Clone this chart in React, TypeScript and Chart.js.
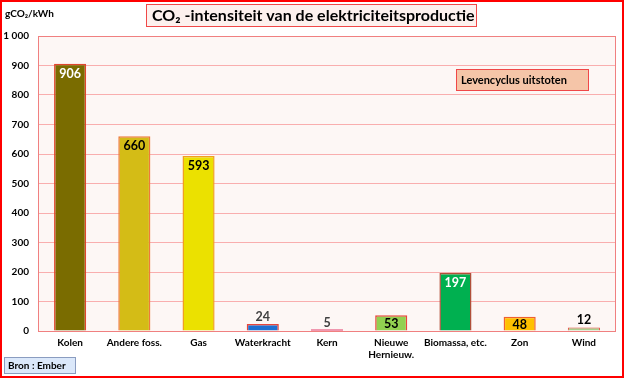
import React, { useEffect, useRef } from 'react';
import { Chart, registerables } from 'chart.js';
Chart.register(...registerables);

const categories: string[][] = [
  ['Kolen'], ['Andere foss.'], ['Gas'], ['Waterkracht'], ['Kern'],
  ['Nieuwe', 'Hernieuw.'], ['Biomassa, etc.'], ['Zon'], ['Wind'],
];
const values = [906, 660, 593, 24, 5, 53, 197, 48, 12];
const barColors = ['#7a6c00', '#d4bc16', '#ebe100', '#1e70d2', '#e33a6a', '#92d050', '#00b050', '#ffc000', '#a9d08e'];
const borderColors = ['#e0452e', '#ee7a3a', '#f0a020', '#e8453a', '#e33a6a', '#e8453a', '#b0503a', '#f06030', '#e8453a'];
const borderWidths = [1.5, 1.5, 1.5, 1.5, 0, 1.5, 1.5, 1.5, 1];
const labelColors = ['#ffffff', '#000000', '#000000', '#404040', '#404040', '#000000', '#ffffff', '#000000', '#000000'];
const labelInside = [true, true, true, false, false, true, true, true, false];
const yMax = 1000;
const yStep = 100;
const titleText = 'CO₂ -intensiteit van de elektriciteitsproductie';
const yTitle = 'gCO₂/kWh';
const legendText = 'Levencyclus uitstoten';
const sourceText = 'Bron : Ember';

const FONT = 'Lato, "Open Sans", sans-serif';

function box(ctx: CanvasRenderingContext2D, x: number, y: number, w: number, h: number, fill: string, stroke: string) {
  ctx.fillStyle = fill;
  ctx.fillRect(x, y, w, h);
  ctx.strokeStyle = stroke;
  ctx.lineWidth = 1;
  ctx.strokeRect(x + 0.5, y + 0.5, w - 1, h - 1);
}

const decorPlugin = {
  id: 'decor',
  beforeDraw(chart: any) {
    const ctx: CanvasRenderingContext2D = chart.ctx;
    const { left, top, right, bottom } = chart.chartArea;
    ctx.save();
    ctx.fillStyle = '#ffffff';
    ctx.fillRect(0, 0, chart.width, chart.height);
    ctx.fillStyle = '#fdf7f5';
    ctx.fillRect(left, top, right - left, bottom - top);
    ctx.restore();
  },
  afterDatasetsDraw(chart: any) {
    const ctx: CanvasRenderingContext2D = chart.ctx;
    const { left, top, right, bottom } = chart.chartArea;
    ctx.save();
    // plot border
    ctx.strokeStyle = '#f08080';
    ctx.lineWidth = 1;
    ctx.strokeRect(left + 0.5, top + 0.5, right - left - 1, bottom - top);

    // data labels
    const meta = chart.getDatasetMeta(0);
    ctx.font = 'bold 12.5px ' + FONT;
    ctx.textAlign = 'center';
    ctx.textBaseline = 'middle';
    meta.data.forEach((el: any, i: number) => {
      ctx.fillStyle = labelColors[i];
      const y = labelInside[i] ? Math.min(el.y + 10, (el.y + el.base) / 2 + 1) : el.y - 7;
      ctx.fillText(String(values[i]), el.x, y);
    });

    // title box
    box(ctx, 146, 4, 331, 23, '#fdf1ee', '#f04848');
    ctx.fillStyle = '#000';
    ctx.font = 'bold 16px ' + FONT;
    ctx.textAlign = 'left';
    ctx.textBaseline = 'middle';
    ctx.fillText(titleText, 152, 16);

    // y title
    ctx.font = 'bold 10px ' + FONT;
    ctx.fillText(yTitle, 5, 14);

    // legend box
    box(ctx, 456, 69, 133, 22, '#f5c5a8', '#f04848');
    ctx.fillStyle = '#000';
    ctx.font = 'bold 11px ' + FONT;
    ctx.fillText(legendText, 461, 80.5);

    // source box
    box(ctx, 4, 357, 72, 17, '#dbe8fa', '#8a9cc0');
    ctx.fillStyle = '#000';
    ctx.font = 'bold 10px ' + FONT;
    ctx.fillText(sourceText, 8, 366);

    // outer border
    ctx.strokeStyle = '#ff0000';
    ctx.lineWidth = 2;
    ctx.strokeRect(1, 1, chart.width - 2, chart.height - 2);
    ctx.restore();
  },
};

export default function App() {
  const ref = useRef<HTMLCanvasElement>(null);
  useEffect(() => {
    document.body.style.margin = '0';
    let chart: Chart | null = null;
    let cancelled = false;
    const make = () => {
      if (cancelled || !ref.current) return;
      chart = new Chart(ref.current, {
        type: 'bar',
        data: {
          labels: categories,
          datasets: [{
            data: values,
            backgroundColor: barColors,
            borderColor: borderColors,
            borderWidth: borderWidths,
            barPercentage: 0.5,
            categoryPercentage: 1,
          }],
        },
        options: {
          animation: false,
          responsive: false,
          maintainAspectRatio: false,
          layout: { padding: { left: 0, top: 36, right: 8, bottom: 0 } },
          plugins: { legend: { display: false }, tooltip: { enabled: false }, title: { display: false } },
          scales: {
            x: {
              grid: { display: false, drawTicks: false },
              border: { display: false },
              ticks: { color: '#000', font: { family: FONT, weight: 'bold', size: 10 }, padding: 6, maxRotation: 0, autoSkip: false },
              afterFit: (s: any) => { s.height = 47; },
            },
            y: {
              min: 0,
              max: yMax,
              grid: { color: '#f9aeae', drawTicks: false, lineWidth: 1 },
              border: { display: false },
              ticks: {
                stepSize: yStep,
                color: '#000',
                padding: 9,
                font: { family: FONT, weight: 'bold', size: 10 },
                callback: (v: any) => (v >= 1000 ? String(v).replace(/(\d)(?=(\d{3})+$)/, '$1 ') : String(v)),
              },
              afterFit: (s: any) => { s.width = 38; },
            },
          },
        },
        plugins: [decorPlugin],
      } as any);
    };
    const fontsReady = (document as any).fonts
      ? Promise.all([
          (document as any).fonts.load('bold 16px Lato'),
          (document as any).fonts.load('bold 10px Lato'),
        ]).catch(() => null)
      : Promise.resolve(null);
    fontsReady.then(make);
    return () => { cancelled = true; if (chart) chart.destroy(); };
  }, []);
  return (
    <div style={{ width: 624, height: 378 }}>
      <canvas ref={ref} width={624} height={378} style={{ width: 624, height: 378, display: 'block' }} />
    </div>
  );
}
